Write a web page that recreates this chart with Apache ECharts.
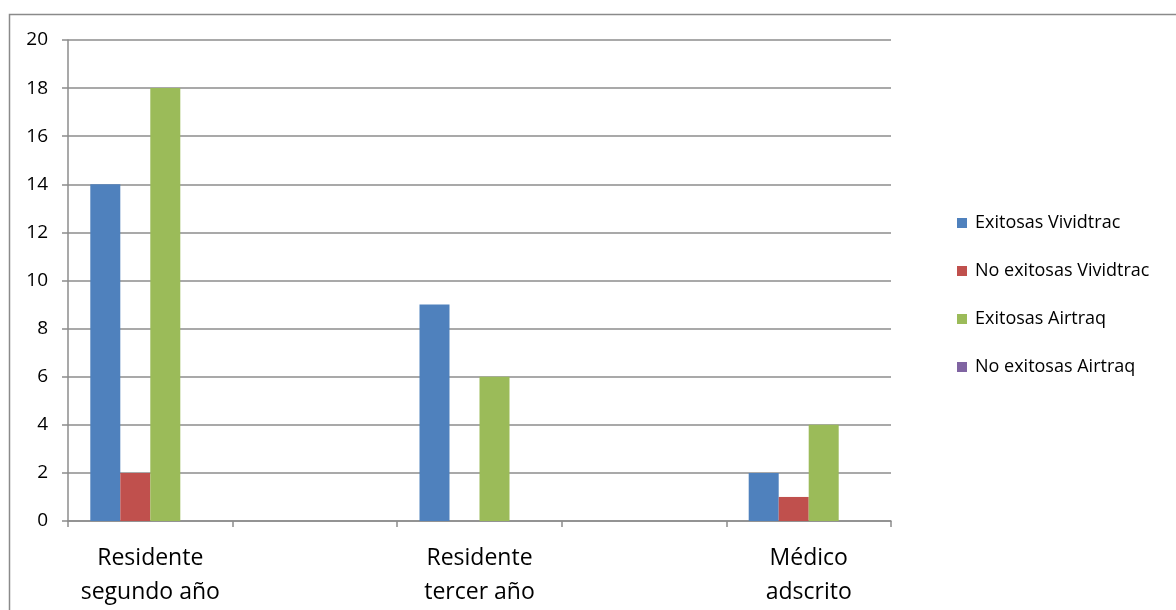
<!DOCTYPE html>
<html>
<head>
<meta charset="utf-8">
<script src="https://cdn.jsdelivr.net/npm/echarts@6/dist/echarts.min.js"></script>
<style>
  html, body { margin: 0; padding: 0; background: #fff; }
  #chart { width: 1176px; height: 610px; }
</style>
</head>
<body>
<div id="chart"></div>
<script>
// categories (empty slots sit between the real groups, like the original)
const categories = ['Residente\nsegundo año', '', 'Residente\ntercer año', '', 'Médico\nadscrito'];
const seriesNames = ['Exitosas Vividtrac', 'No exitosas Vividtrac', 'Exitosas Airtraq', 'No exitosas Airtraq'];
const exitosasVividtrac = [14, '-', 9, '-', 2];
const noExitosasVividtrac = [2, '-', 0, '-', 1];
const exitosasAirtraq = [18, '-', 6, '-', 4];
const noExitosasAirtraq = [0, '-', 0, '-', 0];
const colors = ['#4F81BD', '#C0504D', '#9BBB59', '#8064A2'];

const font = "'Open Sans', 'Noto Sans', sans-serif";
const gridColor = '#8c8c8c';

const chart = echarts.init(document.getElementById('chart'));
const allData = [exitosasVividtrac, noExitosasVividtrac, exitosasAirtraq, noExitosasAirtraq];

chart.setOption({
  animation: false,
  color: colors,
  textStyle: { fontFamily: font, color: '#000' },
  graphic: [{
    type: 'rect',
    shape: { x: 9.5, y: 14.5, width: 1300, height: 800 },
    style: { fill: 'none', stroke: '#8a8a8a', lineWidth: 1.5 },
    silent: true,
  }],
  grid: { left: 68, right: 285, top: 40, bottom: 89 },
  legend: {
    orient: 'vertical',
    left: 952,
    top: 209,
    itemWidth: 10,
    itemHeight: 10,
    itemGap: 30,
    icon: 'rect',
    data: seriesNames,
    textStyle: { fontSize: 18, fontFamily: font, color: '#000', lineHeight: 18, padding: [0, 0, 0, 3] },
  },
  xAxis: {
    type: 'category',
    data: categories,
    axisLine: { lineStyle: { color: gridColor, width: 1.5 } },
    axisTick: { show: true, interval: 0, length: 6, lineStyle: { color: gridColor, width: 1.5 } },
    axisLabel: { interval: 0, fontSize: 23, lineHeight: 34, margin: 20, color: '#000' },
    splitLine: { show: false },
  },
  yAxis: {
    type: 'value',
    min: 0,
    max: 20,
    interval: 2,
    axisLine: { show: true, lineStyle: { color: gridColor, width: 1.5 } },
    axisTick: { show: true, length: 6, lineStyle: { color: gridColor, width: 1.5 } },
    axisLabel: { fontSize: 19, margin: 20, color: '#000' },
    splitLine: { lineStyle: { color: gridColor, width: 1.5 } },
  },
  series: seriesNames.map((name, i) => ({
    name,
    type: 'bar',
    barWidth: 30,
    barGap: 0,
    data: allData[i],
  })),
});
</script>
</body>
</html>
